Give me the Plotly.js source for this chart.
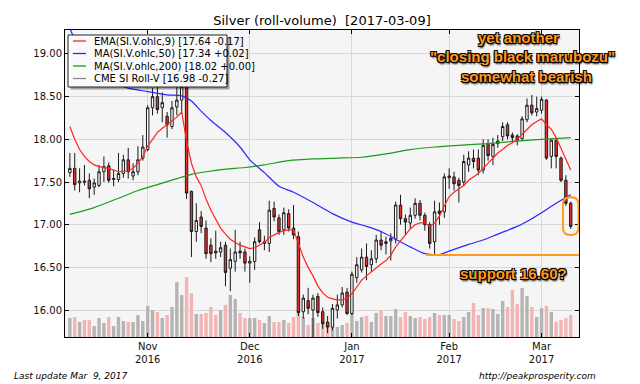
<!DOCTYPE html>
<html><head><meta charset="utf-8">
<script src="https://cdn.plot.ly/plotly-3.0.1.min.js"></script>
<style>html,body{margin:0;padding:0;background:#fff}#chart{width:640px;height:384px}</style>
</head><body><div id="chart"></div>
<script>
// trading days (categories)
const dates = [
'2016-10-10','2016-10-11','2016-10-12','2016-10-13','2016-10-14','2016-10-17','2016-10-18','2016-10-19','2016-10-20','2016-10-21','2016-10-24','2016-10-25','2016-10-26','2016-10-27','2016-10-28','2016-10-31',
'2016-11-01','2016-11-02','2016-11-03','2016-11-04','2016-11-07','2016-11-08','2016-11-09','2016-11-10','2016-11-11','2016-11-14','2016-11-15','2016-11-16','2016-11-17','2016-11-18','2016-11-21','2016-11-22','2016-11-23','2016-11-25','2016-11-28','2016-11-29','2016-11-30',
'2016-12-01','2016-12-02','2016-12-05','2016-12-06','2016-12-07','2016-12-08','2016-12-09','2016-12-12','2016-12-13','2016-12-14','2016-12-15','2016-12-16','2016-12-19','2016-12-20','2016-12-21','2016-12-22','2016-12-23','2016-12-27','2016-12-28','2016-12-29','2016-12-30',
'2017-01-03','2017-01-04','2017-01-05','2017-01-06','2017-01-09','2017-01-10','2017-01-11','2017-01-12','2017-01-13','2017-01-17','2017-01-18','2017-01-19','2017-01-20','2017-01-23','2017-01-24','2017-01-25','2017-01-26','2017-01-27','2017-01-30','2017-01-31',
'2017-02-01','2017-02-02','2017-02-03','2017-02-06','2017-02-07','2017-02-08','2017-02-09','2017-02-10','2017-02-13','2017-02-14','2017-02-15','2017-02-16','2017-02-17','2017-02-21','2017-02-22','2017-02-23','2017-02-24','2017-02-27','2017-02-28',
'2017-03-01','2017-03-02','2017-03-03','2017-03-06','2017-03-07','2017-03-08','2017-03-09'];

const open = [17.61,17.66,17.49,17.51,17.52,17.44,17.46,17.62,17.69,17.53,
17.53,17.60,17.76,17.57,17.62,17.78,17.88,18.37,18.50,18.37,
18.27,18.15,18.38,18.46,18.66,17.39,16.92,17.09,16.96,16.76,
16.69,16.68,16.76,16.49,16.57,16.69,16.68,16.55,16.57,16.94,
16.78,16.78,17.19,17.08,16.94,17.13,16.96,16.86,15.98,16.11,
16.00,16.16,15.98,15.86,15.80,16.00,16.06,16.21,15.96,16.38,
16.47,16.62,16.53,16.60,16.82,16.78,16.81,16.83,17.23,17.07,
17.02,17.11,17.25,17.11,17.00,16.80,17.16,17.15,17.55,17.56,
17.52,17.50,17.70,17.78,17.78,17.64,17.95,17.80,17.95,18.03,
18.17,18.05,18.04,18.01,18.23,18.40,18.32,18.34,18.46,17.80,
17.99,17.78,17.52,17.25];
const high = [17.84,17.84,17.66,17.70,17.60,17.54,17.70,17.80,17.73,17.64,
17.84,17.82,17.90,17.72,17.92,18.05,18.40,18.60,18.62,18.55,
18.32,18.45,18.90,18.86,18.72,17.40,17.25,17.16,17.05,16.84,
16.93,16.80,16.80,16.72,16.94,16.80,16.72,16.63,16.85,17.03,
16.87,17.28,17.27,17.12,17.20,17.18,17.23,16.92,16.18,16.26,
16.18,16.20,16.03,15.93,16.07,16.18,16.27,16.26,16.45,16.62,
16.72,16.78,16.70,16.88,16.92,16.86,16.90,17.27,17.35,17.12,
17.20,17.31,17.29,17.14,17.03,17.28,17.26,17.60,17.66,17.62,
17.55,17.82,17.86,17.88,17.88,18.00,18.00,18.02,18.05,18.20,
18.20,18.08,18.06,18.27,18.48,18.52,18.50,18.50,18.47,18.00,
18.00,17.80,17.58,17.27];
const low = [17.56,17.40,17.38,17.46,17.31,17.35,17.44,17.50,17.49,17.45,
17.50,17.55,17.54,17.52,17.58,17.75,17.86,18.28,18.30,18.20,
18.02,18.12,18.28,18.30,17.30,16.62,16.80,16.90,16.60,16.56,
16.60,16.62,16.28,16.22,16.45,16.60,16.45,16.32,16.47,16.78,
16.70,16.68,17.04,16.88,16.88,16.92,16.83,15.93,15.90,15.95,
15.50,15.92,15.78,15.73,15.76,15.90,16.03,15.94,15.94,16.32,
16.44,16.35,16.45,16.55,16.70,16.65,16.58,16.78,17.00,16.88,
16.95,17.07,17.05,16.93,16.72,16.64,17.00,17.08,17.42,17.40,
17.26,17.45,17.62,17.66,17.58,17.60,17.75,17.70,17.90,17.98,
18.00,17.97,17.93,17.98,18.20,18.28,18.27,18.30,17.76,17.66,
17.66,17.50,17.22,16.95];
const close = [17.66,17.47,17.51,17.50,17.42,17.49,17.62,17.68,17.52,17.54,
17.60,17.76,17.62,17.62,17.76,17.91,18.37,18.50,18.35,18.43,
18.17,18.37,18.46,18.62,17.37,16.92,17.05,16.98,16.66,16.66,
16.67,16.73,16.44,16.59,16.68,16.67,16.55,16.57,16.80,16.80,
16.80,17.17,17.09,16.92,17.14,16.96,16.88,15.97,16.14,16.02,
16.14,15.97,15.84,15.80,16.02,16.06,16.20,15.96,16.42,16.53,
16.62,16.51,16.60,16.82,16.76,16.80,16.84,17.23,17.07,17.03,
17.11,17.25,17.11,17.00,16.78,17.15,17.13,17.56,17.57,17.48,
17.46,17.74,17.78,17.74,17.64,17.93,17.81,17.94,17.98,18.15,
18.04,18.02,17.99,18.24,18.40,18.31,18.36,18.47,17.78,17.99,
17.80,17.52,17.25,16.98];
// roll volume (relative units)
const volume = [19,20,15,17,17,11,19,14,20,11,
20,16,15,15,22,16,31,27,25,19,
22,30,55,42,60,44,23,23,24,30,
22,27,32,42,38,24,19,19,19,17,
14,21,15,15,17,14,20,28,20,12,
19,14,15,14,14,10,12,14,24,16,
20,21,15,24,27,21,21,28,20,25,
21,19,20,18,20,24,22,22,22,18,
16,20,25,34,22,29,29,28,23,36,
30,47,33,49,41,30,20,29,31,25,
15,17,19,22];

// moving averages (day index -> value)
const emaAt = [0,1,2,3,4,5,6,8,10,12,13,14,15,16,17,18,19,20,21,22,23,24,25,26,27,28,29,30,31,32,33,34,35,36,37,38,39,40,41,42,43,44,45,46,47,48,49,50,51,52,53,54,55,56,57,58,59,60,61,62,63,64,65,66,67,68,69,70,71,72,73,74,75,76,77,78,79,80,81,82,83,84,85,86,87,88,89,90,91,92,93,94,95,96,97,98,99,100,101,102,103];
const ema9 = [18.15,18.00,17.88,17.80,17.74,17.70,17.68,17.66,17.62,17.63,17.66,17.72,17.80,17.92,18.00,18.08,18.13,18.17,18.21,18.26,18.32,17.98,17.72,17.56,17.46,17.30,17.17,17.07,16.96,16.89,16.83,16.79,16.76,16.74,16.72,16.73,16.76,16.79,16.85,16.88,16.91,16.93,16.94,16.94,16.78,16.62,16.50,16.40,16.28,16.20,16.15,16.13,16.12,16.12,16.14,16.19,16.27,16.35,16.40,16.45,16.49,16.54,16.58,16.64,16.74,16.81,16.88,16.95,17.00,17.02,17.02,16.98,17.02,17.10,17.22,17.33,17.38,17.42,17.46,17.52,17.56,17.60,17.66,17.72,17.78,17.84,17.88,17.93,17.96,18.00,18.06,18.12,18.17,18.21,18.24,18.17,18.12,18.02,17.90,17.78,17.64];
const ma50At = [0,1,2,4,6,8,10,12,16,20,23,25,27,29,32,35,37,40,43,46,50,54,58,61,64,67,70,73,76,78,82,85,88,92,95,97,100,103];
const ma50 = [19.30,19.17,19.07,18.92,18.80,18.70,18.64,18.60,18.56,18.52,18.51,18.45,18.33,18.22,18.08,17.91,17.76,17.61,17.45,17.38,17.26,17.13,17.03,16.98,16.92,16.83,16.74,16.66,16.65,16.69,16.77,16.82,16.89,16.98,17.07,17.14,17.25,17.35];
const ma200At = [0,5,10,14,18,22,25,28,32,36,40,45,50,55,60,65,70,75,80,86,92,97,103];
const ma200 = [17.12,17.20,17.31,17.40,17.47,17.54,17.59,17.62,17.65,17.67,17.70,17.75,17.77,17.78,17.79,17.83,17.88,17.91,17.93,17.95,17.98,18.00,18.02];

const tickDates = ['2016-11-01','2016-12-01','2017-01-03','2017-02-01','2017-03-01'];
const tickLabels = ['Nov<br>2016','Dec<br>2016','Jan<br>2017','Feb<br>2017','Mar<br>2017'];

const legendNames = ['EMA(SI.V.ohlc,9) [17.64 -0.17]','MA(SI.V.ohlc,50) [17.34 +0.02]','MA(SI.V.ohlc,200) [18.02 +0.00]','CME SI Roll-V [16.98 -0.27]'];
const legendColors = ['#ff2424','#2828ff','#1e9a1e','#8c8c8c'];

const supportLevel = 16.645;

const volColors = open.map((o,i)=> close[i] >= o ? '#b4b4b4' : '#f4b4b4');

const traces = [
  {type:'bar', x:dates, y:volume, marker:{color:volColors, line:{width:0}}, width:0.7,
   xaxis:'x', yaxis:'y', hoverinfo:'skip', showlegend:false},
  {type:'candlestick', x:dates, open:open, high:high, low:low, close:close, xaxis:'x', yaxis:'y2',
   increasing:{line:{color:'#1a1a1a', width:1}, fillcolor:'#ffffff'},
   decreasing:{line:{color:'#1a1a1a', width:1}, fillcolor:'#e8302e'},
   whiskerwidth:0, showlegend:false},
  {type:'scatter', mode:'lines', x:ma200At.map(i=>dates[i]), y:ma200, xaxis:'x', yaxis:'y2',
   line:{color:legendColors[2], width:1.2, shape:'spline', smoothing:0.6}, showlegend:false},
  {type:'scatter', mode:'lines', x:ma50At.map(i=>dates[i]), y:ma50, xaxis:'x', yaxis:'y2',
   line:{color:legendColors[1], width:1.2, shape:'spline', smoothing:0.6}, showlegend:false},
  {type:'scatter', mode:'lines', x:emaAt.map(i=>dates[i]), y:ema9, xaxis:'x', yaxis:'y2',
   line:{color:legendColors[0], width:1.2}, showlegend:false}
];

// pixel helpers for paper-referenced decorations (plot: x 65..579, y 30..337)
const PL=65, PR=579, PT=30, PB=337;
const px = v => (v-PL)/(PR-PL);
const py = v => (PB-v)/(PB-PT);

const shapes = [];
const annotations = [];

// legend box
shapes.push({type:'rect', xref:'paper', yref:'paper', x0:px(70.5), x1:px(229.5), y0:py(89.5), y1:py(37.5),
  fillcolor:'rgba(0,0,0,0.35)', line:{width:0}, layer:'above'});
shapes.push({type:'rect', xref:'paper', yref:'paper', x0:px(68), x1:px(227), y0:py(87), y1:py(35),
  fillcolor:'rgba(255,255,255,0.95)', line:{color:'#222', width:1}, layer:'above'});
const rowY = [41, 53.5, 66, 78.5];
legendNames.forEach((n,k)=>{
  shapes.push({type:'line', xref:'paper', yref:'paper', x0:px(73), x1:px(86), y0:py(rowY[k]), y1:py(rowY[k]),
    line:{color:legendColors[k], width:1.3}, layer:'above'});
  annotations.push({xref:'paper', yref:'paper', x:px(92), y:py(rowY[k]), xanchor:'left', yanchor:'middle',
    text:n, showarrow:false, font:{family:'DejaVu Sans', size:10, color:'#000'}});
});

// support line and highlight box
shapes.push({type:'line', xref:'x', yref:'y2', x0:73.3, x1:104.7, y0:supportLevel, y1:supportLevel,
  line:{color:'#ff9a1f', width:2}, layer:'above'});
(function(){
  const x0=101.4, x1=104.6, y0=16.88, y1=17.32, rx=1.5, ry=0.085;
  const p = `M${x0+rx},${y1} L${x1-rx},${y1} Q${x1},${y1} ${x1},${y1-ry} L${x1},${y0+ry} Q${x1},${y0} ${x1-rx},${y0} L${x0+rx},${y0} Q${x0},${y0} ${x0},${y0+ry} L${x0},${y1-ry} Q${x0},${y1} ${x0+rx},${y1} Z`;
  shapes.push({type:'path', xref:'x', yref:'y2', path:p, line:{color:'#ff9a1f', width:2}, layer:'above'});
})();

const orangeFont = {family:'Liberation Sans', size:15, color:'#ff9a1f', weight:'bold',
  shadow:'1px 1px 0 #000, -1px -1px 0 #000, 1px -1px 0 #000, -1px 1px 0 #000, 1px 2px 2px #000'};
[['yet another',518,37.5],['"closing black marubozu"',522.5,56.7],['somewhat bearish',526.7,77],['support 16.60?',513,273.5]]
 .forEach(([t,x,y])=>annotations.push({xref:'paper', yref:'paper', x:px(x), y:py(y), xanchor:'center', yanchor:'middle',
   text:'<b>'+t+'</b>', showarrow:false, font:orangeFont}));

annotations.push({xref:'paper', yref:'paper', x:px(12), y:py(376), xanchor:'left', yanchor:'middle', showarrow:false,
  text:'<i>Last update Mar &nbsp;9, 2017</i>', font:{family:'DejaVu Sans', size:9, color:'#000'}});
annotations.push({xref:'paper', yref:'paper', x:px(598), y:py(376), xanchor:'right', yanchor:'middle', showarrow:false,
  text:'<i>http://peakprosperity.com</i>', font:{family:'DejaVu Sans', size:9, color:'#000'}});

const layout = {
  width:640, height:384,
  margin:{l:PL, r:640-PR, t:PT, b:384-PB, pad:0},
  paper_bgcolor:'#ffffff', plot_bgcolor:'#f5f5f5',
  showlegend:false,
  font:{family:'DejaVu Sans', size:10, color:'#111'},
  title:{text:'Silver (roll-volume) &nbsp;[2017-03-09]', x:0.5, xref:'paper', y:1-20/384, yref:'container',
    yanchor:'middle', xanchor:'center', font:{family:'DejaVu Sans', size:13, color:'#000'}},
  xaxis:{type:'category', range:[-1.0, 104.7], tickvals:tickDates, ticktext:tickLabels,
    showgrid:true, gridcolor:'#d8d8d8', gridwidth:1, ticks:'inside', ticklen:4, tickcolor:'#000',
    showline:true, linecolor:'#000', linewidth:1, mirror:'ticks', zeroline:false,
    rangeslider:{visible:false}, tickfont:{size:10, color:'#111'}, fixedrange:true},
  yaxis:{range:[0, PB-PT], visible:false, fixedrange:true},
  yaxis2:{overlaying:'y', side:'left', range:[15.684, 19.281], tick0:16, dtick:0.5, tickformat:'.2f',
    showgrid:true, gridcolor:'#d8d8d8', gridwidth:1, ticks:'inside', ticklen:4, tickcolor:'#000',
    showline:true, linecolor:'#000', linewidth:1, mirror:'ticks', zeroline:false,
    tickfont:{size:10, color:'#111'}, fixedrange:true},
  shapes:shapes, annotations:annotations
};

Plotly.newPlot('chart', traces, layout, {displayModeBar:false, staticPlot:true});
</script></body></html>
